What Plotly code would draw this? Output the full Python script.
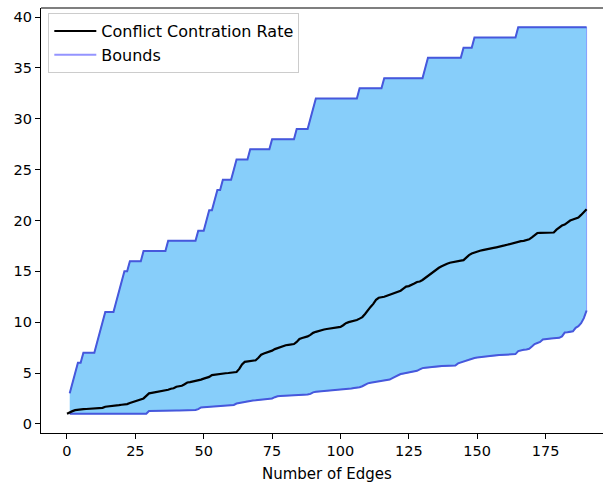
import plotly.graph_objects as go

# ---- data ----
edges_rate = list(range(0, 191))
conflict_rate = [
    1.00, 1.15, 1.25, 1.35, 1.40, 1.43, 1.45, 1.46, 1.48, 1.50,
    1.51, 1.53, 1.55, 1.57, 1.68, 1.70, 1.74, 1.76, 1.80, 1.84,
    1.88, 1.90, 1.94, 2.05, 2.15, 2.22, 2.30, 2.40, 2.50, 2.75,
    3.00, 3.05, 3.10, 3.15, 3.20, 3.22, 3.25, 3.35, 3.45, 3.50,
    3.65, 3.70, 3.75, 3.90, 4.07, 4.10, 4.15, 4.22, 4.28, 4.35,
    4.45, 4.50, 4.62, 4.80, 4.85, 4.90, 4.92, 4.95, 4.98, 5.00,
    5.02, 5.06, 5.10, 5.40, 5.85, 6.10, 6.15, 6.18, 6.20, 6.25,
    6.50, 6.80, 6.92, 7.00, 7.10, 7.20, 7.35, 7.45, 7.55, 7.65,
    7.73, 7.77, 7.80, 7.85, 8.05, 8.35, 8.45, 8.52, 8.60, 8.75,
    8.95, 9.05, 9.15, 9.20, 9.28, 9.33, 9.38, 9.42, 9.47, 9.50,
    9.53, 9.70, 9.90, 10.00, 10.05, 10.12, 10.22, 10.35, 10.50, 10.80,
    11.20, 11.50, 11.80, 12.20, 12.40, 12.42, 12.50, 12.60, 12.70, 12.80,
    12.85, 12.95, 13.10, 13.30, 13.50, 13.55, 13.65, 13.80, 13.95, 14.00,
    14.15, 14.35, 14.60, 14.75, 14.95, 15.15, 15.35, 15.50, 15.65, 15.75,
    15.85, 15.92, 15.98, 16.02, 16.06, 16.10, 16.40, 16.60, 16.75, 16.85,
    16.97, 17.02, 17.08, 17.12, 17.18, 17.24, 17.30, 17.36, 17.40, 17.46,
    17.55, 17.62, 17.70, 17.80, 17.88, 17.93, 17.97, 18.00, 18.05, 18.15,
    18.35, 18.60, 18.77, 18.78, 18.78, 18.79, 18.80, 18.80, 18.82, 19.10,
    19.30, 19.50, 19.60, 19.80, 20.00, 20.10, 20.20, 20.30, 20.55, 20.85,
    21.10,
]

edges_bounds = list(range(1, 191))
upper_bound = [
    3, 4, 5, 6, 6, 7, 7, 7, 7, 7,
    8, 9, 10, 11, 11, 11, 11, 12, 13, 14,
    15, 15, 16, 16, 16, 16, 16, 17, 17, 17,
    17, 17, 17, 17, 17, 17, 18, 18, 18, 18,
    18, 18, 18, 18, 18, 18, 18, 19, 19, 19,
    20, 21, 21, 22, 23, 23, 24, 24, 24, 24,
    25, 26, 26, 26, 26, 26, 27, 27, 27, 27,
    27, 27, 27, 27, 28, 28, 28, 28, 28, 28,
    28, 28, 28, 29, 29, 29, 29, 29, 30, 31,
    32, 32, 32, 32, 32, 32, 32, 32, 32, 32,
    32, 32, 32, 32, 32, 32, 33, 33, 33, 33,
    33, 33, 33, 33, 33, 34, 34, 34, 34, 34,
    34, 34, 34, 34, 34, 34, 34, 34, 34, 34,
    35, 36, 36, 36, 36, 36, 36, 36, 36, 36,
    36, 36, 36, 36, 37, 37, 37, 37, 38, 38,
    38, 38, 38, 38, 38, 38, 38, 38, 38, 38,
    38, 38, 38, 38, 39, 39, 39, 39, 39, 39,
    39, 39, 39, 39, 39, 39, 39, 39, 39, 39,
    39, 39, 39, 39, 39, 39, 39, 39, 39, 39,
]
lower_bound = [
    1.00, 1.00, 1.00, 1.00, 1.00, 1.00, 1.00, 1.00, 1.00, 1.00,
    1.00, 1.00, 1.00, 1.00, 1.00, 1.00, 1.00, 1.00, 1.00, 1.00,
    1.00, 1.00, 1.00, 1.00, 1.00, 1.00, 1.00, 1.00, 1.00, 1.27,
    1.28, 1.28, 1.28, 1.29, 1.29, 1.29, 1.30, 1.30, 1.30, 1.31,
    1.31, 1.31, 1.32, 1.32, 1.33, 1.34, 1.36, 1.45, 1.62, 1.64,
    1.66, 1.68, 1.70, 1.72, 1.74, 1.76, 1.78, 1.80, 1.82, 1.84,
    1.86, 2.00, 2.05, 2.10, 2.16, 2.26, 2.28, 2.30, 2.32, 2.34,
    2.36, 2.38, 2.42, 2.46, 2.50, 2.62, 2.72, 2.74, 2.75, 2.76,
    2.77, 2.78, 2.79, 2.80, 2.82, 2.84, 2.86, 2.88, 2.95, 3.10,
    3.15, 3.17, 3.20, 3.22, 3.24, 3.26, 3.28, 3.30, 3.32, 3.34,
    3.36, 3.38, 3.42, 3.48, 3.52, 3.55, 3.60, 3.70, 3.85, 3.98,
    4.05, 4.10, 4.15, 4.20, 4.25, 4.30, 4.33, 4.36, 4.50, 4.65,
    4.80, 4.90, 4.95, 5.00, 5.05, 5.10, 5.15, 5.22, 5.35, 5.48,
    5.52, 5.56, 5.60, 5.62, 5.64, 5.66, 5.68, 5.69, 5.70, 5.71,
    5.72, 5.74, 5.95, 6.05, 6.15, 6.25, 6.35, 6.43, 6.48, 6.52,
    6.56, 6.60, 6.63, 6.66, 6.69, 6.72, 6.74, 6.76, 6.78, 6.80,
    6.82, 6.83, 6.84, 6.86, 7.15, 7.25, 7.28, 7.32, 7.38, 7.60,
    7.85, 7.95, 8.05, 8.30, 8.35, 8.38, 8.40, 8.42, 8.44, 8.46,
    8.60, 8.98, 9.00, 9.02, 9.10, 9.45, 9.60, 9.90, 10.40, 11.15,
]

x_ticks = [0, 25, 50, 75, 100, 125, 150, 175]
y_ticks = [0, 5, 10, 15, 20, 25, 30, 35, 40]
x_label = "Number of Edges"

FONT = "DejaVu Sans"
FILL = "#87CEFA"
EDGE = "#4658dc"

fig = go.Figure()

# shaded region between the bounds (closed polygon)
fig.add_trace(go.Scatter(
    x=edges_bounds + edges_bounds[::-1],
    y=upper_bound + lower_bound[::-1],
    fill="toself", fillcolor=FILL,
    line=dict(color="rgba(110,130,255,0.7)", width=1),
    mode="lines", showlegend=False, hoverinfo="skip",
))
fig.add_trace(go.Scatter(x=edges_bounds, y=upper_bound, mode="lines",
                         line=dict(color=EDGE, width=2), showlegend=False))
fig.add_trace(go.Scatter(x=edges_bounds, y=lower_bound, mode="lines",
                         line=dict(color=EDGE, width=2), showlegend=False))
fig.add_trace(go.Scatter(x=edges_rate, y=conflict_rate, mode="lines",
                         line=dict(color="black", width=2.2),
                         name="Conflict Contration Rate", legendrank=1))
# legend entry for the bounds
fig.add_trace(go.Scatter(x=[None], y=[None], mode="lines",
                         line=dict(color="rgba(0,0,255,0.42)", width=2),
                         name="Bounds", legendrank=2))

axis_common = dict(
    showgrid=False, zeroline=False, showline=True, linecolor="black",
    linewidth=1.1, ticks="outside", ticklen=5, tickwidth=1.1,
    tickcolor="black", tickfont=dict(family=FONT, size=14.5, color="black"),
)
fig.update_layout(
    width=603, height=483,
    margin=dict(l=41, r=0, t=8, b=50),
    paper_bgcolor="white", plot_bgcolor="white",
    font=dict(family=FONT, color="black"),
    xaxis=dict(range=[-9.5, 196], tickvals=x_ticks, **axis_common),
    yaxis=dict(range=[-0.9, 40.9], tickvals=y_ticks, **axis_common),
    legend=dict(x=0.013, y=0.988, xanchor="left", yanchor="top",
                bgcolor="rgba(255,255,255,0.8)", bordercolor="#cccccc",
                borderwidth=1, font=dict(family=FONT, size=16, color="black"),
                tracegroupgap=0, itemwidth=42),
    shapes=[dict(type="line", xref="paper", yref="paper", x0=0, x1=1,
                 y0=1, y1=1, line=dict(color="black", width=1.1))],
    annotations=[dict(text=x_label, x=95, xref="x", y=-0.07, yref="paper",
                      xanchor="center", yanchor="top", showarrow=False,
                      font=dict(family=FONT, size=15, color="black"))],
    showlegend=True,
)

fig.write_html("out.html")
